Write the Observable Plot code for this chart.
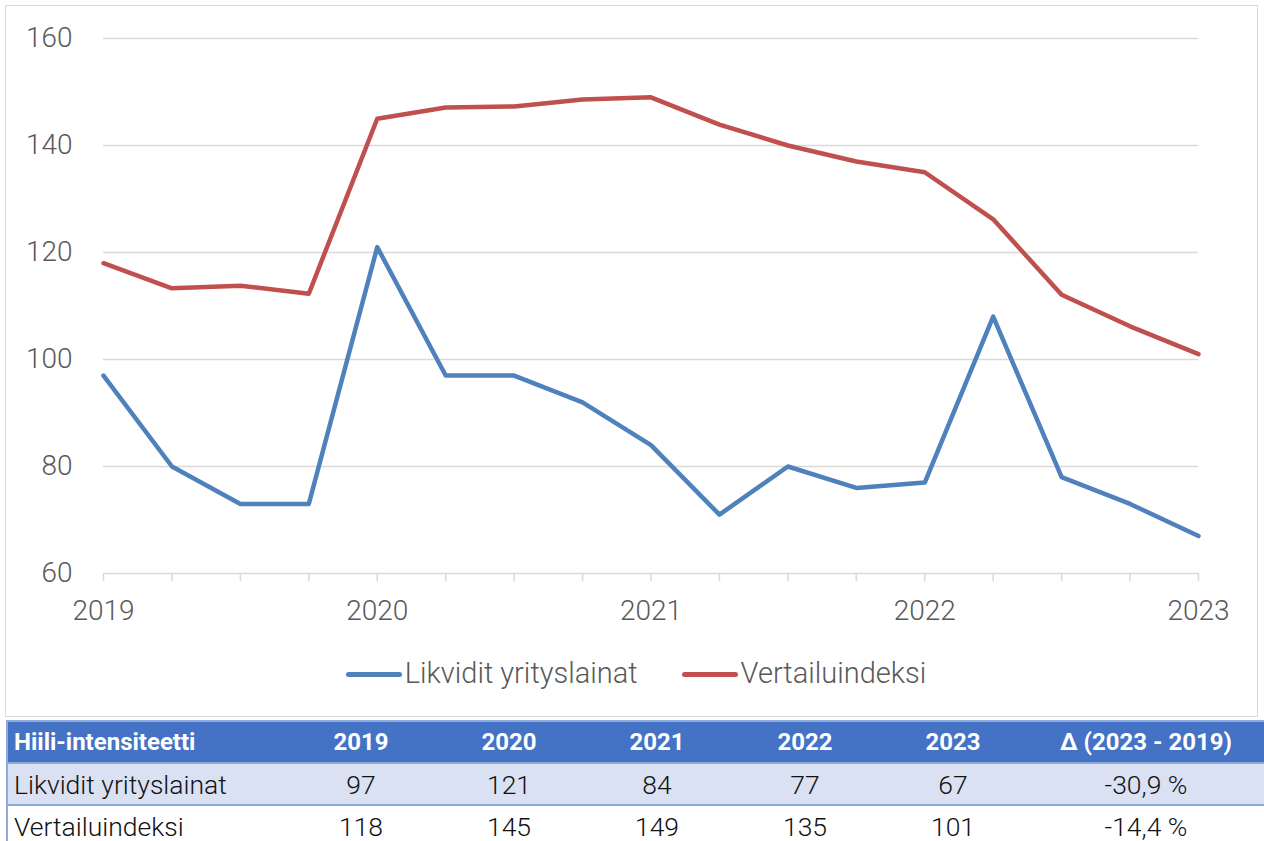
<!DOCTYPE html>
<html>
<head>
<meta charset="utf-8">
<script src="https://cdn.jsdelivr.net/npm/d3@7"></script>
<script src="https://cdn.jsdelivr.net/npm/@observablehq/plot@0.6"></script>
<style>
  html, body { margin: 0; padding: 0; background: #fff; width: 1264px; height: 841px; overflow: hidden; font-family: Roboto, "Noto Sans", sans-serif; }
  #frame { position: absolute; left: 5px; top: 5px; width: 1251px; height: 710px; border: 1.5px solid #d9d9d9; box-sizing: content-box; }
  #chart { position: absolute; left: 0; top: 0; }
  #legend { position: absolute; left: 0; top: 656px; width: 1264px; display: flex; justify-content: center; gap: 44px; font-size: 29px; color: #595959; font-weight: 300; padding-left: 8px; box-sizing: border-box; }
  #legend .item { display: flex; align-items: center; }
  #legend .sw { width: 56px; height: 5px; border-radius: 3px; margin-right: 3px; margin-top: 3px; }
  #tbl { position: absolute; left: 6px; top: 720px; border-collapse: collapse; width: 1258px; table-layout: fixed; }
  #tbl td, #tbl th { padding: 0; height: 40px; text-align: center; font-size: 26.5px; font-weight: 300; color: #111; white-space: nowrap; }
  #tbl th { background: #4472C4; color: #fff; font-weight: 700; font-size: 24px; border-top: 2px solid #8EA9DB; }
  #tbl th:first-child, #tbl td:first-child { text-align: left; padding-left: 6px; }
  #tbl tr.r1 td { background: #D9E1F2; border-top: 2px solid #8EA9DB; border-bottom: 2px solid #8EA9DB; }
  #tbl tr td:first-child, #tbl tr th:first-child { border-left: 2px solid #8EA9DB; }
</style>
</head>
<body>
<div id="frame"></div>
<div id="chart"></div>
<div id="legend"></div>
<table id="tbl"></table>
<script>
// Quarterly time axis (2019 Q1 .. 2023 Q1)
const quarters = d3.range(17).map(i => 2019 + i / 4);
const likvidit = [97, 80, 73, 73, 121, 97, 97, 92, 84, 71, 80, 76, 77, 108, 78, 73, 67];
const vertailu = [118, 113.3, 113.8, 112.3, 145, 147.1, 147.3, 148.6, 149, 143.9, 140, 137, 135, 126.2, 112.1, 106.2, 101];
const seriesNames = ["Likvidit yrityslainat", "Vertailuindeksi"];
const seriesColors = ["#4F81BD", "#C0504D"];
const yTicks = [60, 80, 100, 120, 140, 160];
const xTicks = [2019, 2020, 2021, 2022, 2023];

// Table
const tableHeader = ["Hiili-intensiteetti", "2019", "2020", "2021", "2022", "2023", "Δ (2023 - 2019)"];
const tableLikvidit = [97, 121, 84, 77, 67];
const tableVertailu = [118, 145, 149, 135, 101];
const tableDelta = ["-30,9 %", "-14,4 %"];

const data = [
  ...quarters.map((q, i) => ({x: q, y: likvidit[i], s: seriesNames[0]})),
  ...quarters.map((q, i) => ({x: q, y: vertailu[i], s: seriesNames[1]}))
];

const W = 1264, H = 640;
const chart = Plot.plot({
  width: W, height: H,
  marginLeft: 103, marginRight: 66, marginTop: 38, marginBottom: H - 573,
  style: {fontFamily: "Roboto, 'Noto Sans', sans-serif", fontSize: "28px", color: "#595959", background: "transparent", fontWeight: 300},
  x: {domain: [2019, 2023], label: null},
  y: {domain: [60, 160], label: null},
  color: {domain: seriesNames, range: seriesColors},
  marks: [
    Plot.gridY(yTicks.filter(d => d > 60), {stroke: "#d9d9d9", strokeOpacity: 1, strokeWidth: 1.5}),
    Plot.ruleY([60], {stroke: "#d9d9d9", strokeWidth: 1.5}),
    Plot.axisY(yTicks, {tickSize: 0, tickPadding: 31, tickFormat: d => d, fill: "#595959", label: null}),
    Plot.axisX(quarters, {tickSize: 8, tickFormat: () => "", stroke: "#d9d9d9", strokeWidth: 1.5, strokeOpacity: 1, label: null}),
    Plot.axisX(xTicks, {tickSize: 0, tickPadding: 27, tickFormat: d => String(d), fill: "#595959", label: null}),
    Plot.line(data, {x: "x", y: "y", z: "s", stroke: "s", strokeWidth: 4.5, strokeLinecap: "round", strokeLinejoin: "round"})
  ]
});
document.getElementById("chart").appendChild(chart);

// Legend
const legend = document.getElementById("legend");
seriesNames.forEach((n, i) => {
  const it = document.createElement("div");
  it.className = "item";
  it.innerHTML = `<span class="sw" style="background:${seriesColors[i]}"></span><span>${n}</span>`;
  legend.appendChild(it);
});

// Table
const tbl = document.getElementById("tbl");
const colW = [280, 148, 148, 148, 148, 148, 238];
const cg = document.createElement("colgroup");
colW.forEach(w => { const c = document.createElement("col"); c.style.width = w + "px"; cg.appendChild(c); });
tbl.appendChild(cg);
const hr = document.createElement("tr");
tableHeader.forEach(h => { const th = document.createElement("th"); th.textContent = h; hr.appendChild(th); });
tbl.appendChild(hr);
[[seriesNames[0], ...tableLikvidit, tableDelta[0]], [seriesNames[1], ...tableVertailu, tableDelta[1]]].forEach((row, ri) => {
  const tr = document.createElement("tr");
  if (ri === 0) tr.className = "r1";
  row.forEach(v => { const td = document.createElement("td"); td.textContent = v; tr.appendChild(td); });
  tbl.appendChild(tr);
});
</script>
</body>
</html>
